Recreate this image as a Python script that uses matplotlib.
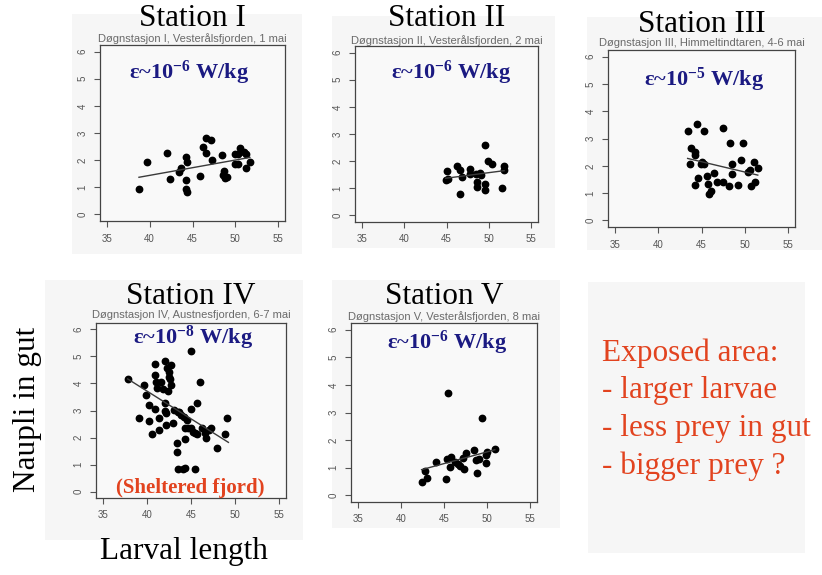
import matplotlib
matplotlib.use("Agg")
import matplotlib.pyplot as plt
from matplotlib.patches import Rectangle

plt.rcParams["mathtext.default"] = "regular"

W, H = 822, 575

# --- data ---------------------------------------------------------------

st1_x = [38.75, 39.7, 42.0, 42.4, 43.4, 43.7, 44.2, 44.3, 44.2, 44.2, 44.4, 45.9,
         46.2, 46.6, 46.6, 47.2, 47.3, 48.4, 48.6, 48.7, 48.8, 49.0, 50.0, 50.0,
         50.3, 50.3, 50.5, 51.0, 51.3, 51.3, 51.7]
st1_y = [0.95, 1.95, 2.28, 1.30, 1.55, 1.71, 2.11, 1.95, 1.26, 0.95, 0.83, 1.40,
         2.50, 2.80, 2.28, 2.74, 1.99, 2.18, 1.46, 1.60, 1.34, 1.38, 2.24, 1.85,
         1.85, 2.24, 2.43, 2.30, 2.22, 1.71, 1.95]
st1_fit_x = [38.75, 51.7]
st1_fit_y = [1.37, 2.10]

st2_x = [44.9, 45.1, 45.2, 46.2, 46.6, 46.6, 46.8, 47.8, 47.8, 48.5, 48.6, 48.6,
         49.0, 49.1, 49.5, 49.5, 49.6, 49.9, 50.4, 51.5, 51.8, 51.8]
st2_y = [1.31, 1.65, 1.33, 1.81, 1.67, 0.80, 1.40, 1.70, 1.51, 1.52, 1.25, 1.04,
         1.55, 1.49, 2.61, 1.15, 0.92, 2.00, 1.91, 1.00, 1.81, 1.69]
st2_fit_x = [44.9, 51.8]
st2_fit_y = [1.37, 1.65]

st3_x = [43.4, 43.7, 43.8, 44.2, 44.3, 44.3, 44.5, 44.6, 44.9, 45.1, 45.3, 45.3,
         45.6, 45.7, 45.9, 46.1, 46.4, 46.8, 47.5, 47.5, 48.2, 48.3, 48.5, 48.5,
         49.2, 49.6, 49.8, 50.4, 50.6, 50.7, 51.1, 51.2, 51.5]
st3_y = [3.29, 2.05, 2.66, 2.50, 2.39, 1.28, 3.53, 1.54, 2.08, 2.14, 3.29, 2.06,
         1.64, 1.33, 0.96, 1.06, 1.72, 1.39, 3.39, 1.39, 1.27, 2.83, 2.08, 1.69,
         1.30, 2.23, 2.84, 1.76, 1.84, 1.27, 2.14, 1.42, 1.93]
st3_fit_x = [43.4, 51.5]
st3_fit_y = [2.27, 1.66]

st4_x = [37.8, 39.1, 39.6, 39.9, 40.2, 40.2, 40.6, 40.9, 40.9, 40.9, 41.0, 41.1,
         41.4, 41.4, 41.6, 41.8, 42.0, 42.0, 42.0, 42.2, 42.2, 42.3, 42.4, 42.5,
         42.5, 42.6, 42.7, 42.7, 42.9, 43.1, 43.4, 43.4, 43.5, 43.5, 43.6, 43.9,
         44.1, 44.2, 44.3, 44.3, 44.3, 44.5, 44.7, 45.0, 45.0, 45.0, 45.2, 45.4,
         45.5, 45.7, 45.7, 46.0, 46.2, 46.6, 46.7, 47.1, 47.3, 48.0, 49.1, 48.9]
st4_y = [4.17, 2.73, 3.96, 3.59, 2.61, 3.22, 2.13, 3.07, 4.74, 4.33, 4.05, 3.83,
         2.28, 2.71, 4.05, 3.80, 4.82, 3.26, 2.98, 2.89, 2.46, 4.56, 3.74, 4.24,
         4.41, 4.17, 3.93, 4.68, 2.52, 3.01, 1.79, 1.46, 2.93, 0.82, 2.95, 2.83,
         0.84, 2.77, 1.95, 0.88, 2.34, 2.65, 2.34, 5.21, 3.07, 2.34, 2.20, 0.84,
         2.16, 3.26, 2.12, 4.05, 2.34, 2.16, 2.00, 2.28, 2.34, 1.61, 2.73, 2.12]
st4_fit_x = [37.8, 49.25]
st4_fit_y = [4.17, 1.82]

st5_x = [42.4, 42.8, 43.0, 44.1, 45.2, 45.3, 45.5, 45.7, 45.8, 46.3, 46.6, 46.8,
         47.2, 47.3, 47.6, 48.5, 48.7, 48.8, 49.1, 49.4, 49.9, 49.9, 50.0, 50.9]
st5_y = [0.48, 0.87, 0.63, 1.21, 0.60, 1.33, 3.71, 1.03, 1.39, 1.21, 1.12, 1.05,
         1.35, 0.97, 1.55, 1.65, 1.29, 0.81, 1.33, 2.80, 1.47, 1.18, 1.57, 1.69]
st5_fit_x = [42.4, 50.9]
st5_fit_y = [0.93, 1.65]

stations = ["Station I", "Station II", "Station III", "Station IV", "Station V"]
subtitles = [
    "Døgnstasjon I, Vesterålsfjorden, 1 mai",
    "Døgnstasjon II, Vesterålsfjorden, 2 mai",
    "Døgnstasjon III, Himmeltindtaren, 4-6 mai",
    "Døgnstasjon IV, Austnesfjorden, 6-7 mai",
    "Døgnstasjon V, Vesterålsfjorden, 8 mai",
]
exponents = ["-6", "-6", "-5", "-8", "-6"]
x_ticks = [35, 40, 45, 50, 55]
y_ticks = [0, 1, 2, 3, 4, 5, 6]
notes = ["Exposed area:", "- larger larvae", "- less prey in gut", "- bigger prey ?"]

series = [
    (st1_x, st1_y, st1_fit_x, st1_fit_y),
    (st2_x, st2_y, st2_fit_x, st2_fit_y),
    (st3_x, st3_y, st3_fit_x, st3_fit_y),
    (st4_x, st4_y, st4_fit_x, st4_fit_y),
    (st5_x, st5_y, st5_fit_x, st5_fit_y),
]

# --- layout (pixels on the slide) ---------------------------------------

# box: left, right, top, bottom
boxes = [(100, 285, 45, 221), (355, 538, 46, 222), (608, 795, 50, 227),
         (96, 286, 323, 498), (351, 537, 323, 502)]
title_y = [18, 18, 24, 296, 296]
sub_y = [39, 41, 43, 315, 317]
eps_pos = [(189, 73), (451, 73), (704, 80), (193, 338), (447, 343)]
# light grey backgrounds of the pasted plots
backs = [(72, 302, 14, 254), (332, 555, 16, 248), (587, 822, 17, 250),
         (45, 303, 280, 540), (332, 560, 280, 528), (588, 805, 282, 553)]

SERIF = ["Liberation Serif", "DejaVu Serif"]
SANS = ["Liberation Sans", "DejaVu Sans"]
NAVY = "#1b1a82"
RED = "#e2431f"
GREY = "#555555"

fig = plt.figure(figsize=(W / 100, H / 100), dpi=100)
fig.patch.set_facecolor("white")


def fx(px):
    return px / W


def fy(py):
    return 1 - py / H


for l, r, t, b in backs:
    fig.add_artist(Rectangle((fx(l), fy(b)), fx(r - l), (b - t) / H,
                             transform=fig.transFigure, facecolor="#f6f6f6",
                             edgecolor="none", zorder=0))

for i, (xs, ys, fxs, fys) in enumerate(series):
    l, r, t, b = boxes[i]
    ax = fig.add_axes([fx(l), fy(b), fx(r - l), (b - t) / H])
    ax.set_facecolor("#f9f9f9")
    ax.plot(xs, ys, "o", color="black", markersize=4.6)
    ax.plot(fxs, fys, "-", color="#3a3a3a", linewidth=1.0)
    ax.set_xlim(34.2, 55.8)
    ax.set_ylim(-0.24, 6.24)
    ax.set_xticks(x_ticks)
    ax.set_yticks(y_ticks)
    ax.tick_params(direction="out", length=4, width=0.8, colors=GREY,
                   labelsize=7, pad=5)
    for lab in ax.get_yticklabels():
        lab.set_rotation(90)
        lab.set_va("center")
        lab.set_family(SANS)
    for lab in ax.get_xticklabels():
        lab.set_family(SANS)
    for sp in ax.spines.values():
        sp.set_color("#444444")
        sp.set_linewidth(0.9)

    cx = (l + r) / 2
    fig.text(fx(cx), fy(title_y[i]), stations[i], family=SERIF, fontsize=22.5,
             ha="center", va="center", color="black")
    fig.text(fx(cx), fy(sub_y[i]), subtitles[i], family=SANS, fontsize=8,
             ha="center", va="center", color="#6a6a6a")
    ex, ey = eps_pos[i]
    fig.text(fx(ex), fy(ey), "ε~10$^{%s}$ W/kg" % exponents[i], family=SERIF,
             fontsize=16, fontweight="bold", ha="center", va="center",
             color=NAVY)

fig.text(fx(190), fy(488), "(Sheltered fjord)", family=SERIF, fontsize=15,
         fontweight="bold", ha="center", va="center", color=RED)

for k, line in enumerate(notes):
    fig.text(fx(602), fy(353 + k * 37.7), line, family=SERIF, fontsize=22.5,
             ha="left", va="center", color=RED)

fig.text(fx(28), fy(409), "Naupli in gut", family=SERIF, fontsize=22.5,
         rotation=90, ha="center", va="center", color="black")
fig.text(fx(184), fy(552), "Larval length", family=SERIF, fontsize=22.5,
         ha="center", va="center", color="black")

fig.savefig("out.png", dpi=100)
